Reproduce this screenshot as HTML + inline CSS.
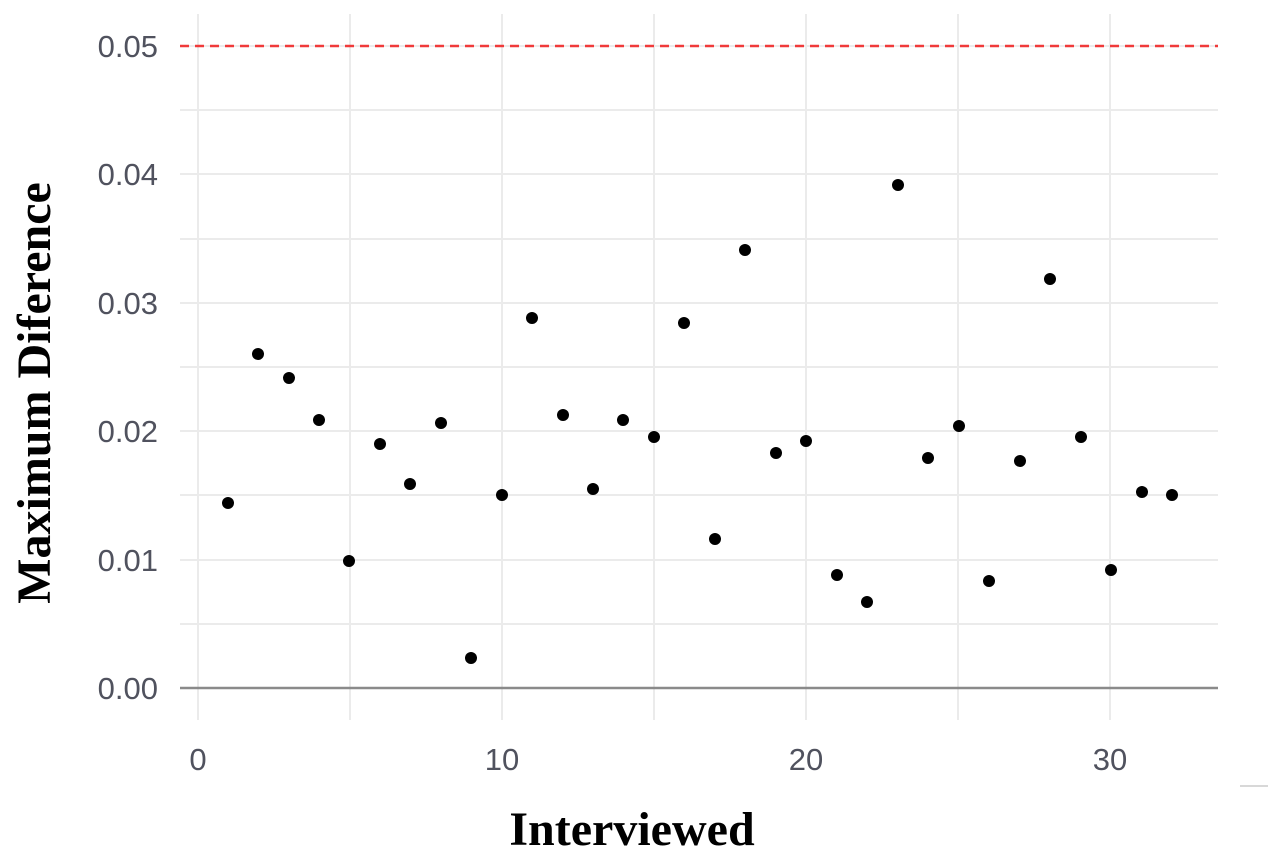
<!DOCTYPE html>
<html><head><style>
html,body{margin:0;padding:0;background:#fff;width:1280px;height:852px;overflow:hidden}
</style></head><body>
<svg width="1280" height="852" viewBox="0 0 1280 852" xmlns="http://www.w3.org/2000/svg">
<g stroke="#ebebeb" stroke-width="2">
<line x1="180" x2="1218" y1="46" y2="46"/><line x1="180" x2="1218" y1="110" y2="110"/>
<line x1="180" x2="1218" y1="174" y2="174"/><line x1="180" x2="1218" y1="239" y2="239"/>
<line x1="180" x2="1218" y1="303" y2="303"/><line x1="180" x2="1218" y1="367" y2="367"/>
<line x1="180" x2="1218" y1="431" y2="431"/><line x1="180" x2="1218" y1="495" y2="495"/>
<line x1="180" x2="1218" y1="560" y2="560"/><line x1="180" x2="1218" y1="624" y2="624"/>
<line x1="198" x2="198" y1="14" y2="720"/><line x1="350" x2="350" y1="14" y2="720"/>
<line x1="502" x2="502" y1="14" y2="720"/><line x1="654" x2="654" y1="14" y2="720"/>
<line x1="806" x2="806" y1="14" y2="720"/><line x1="958" x2="958" y1="14" y2="720"/>
<line x1="1110" x2="1110" y1="14" y2="720"/>
</g>
<line x1="180" x2="1218" y1="688" y2="688" stroke="#8a8a8a" stroke-width="2.5"/>
<line x1="180" x2="1218" y1="46" y2="46" stroke="#f03a3a" stroke-width="2.5" stroke-dasharray="9,6"/>
<line x1="1240" x2="1268" y1="786" y2="786" stroke="#ccc" stroke-width="1.5"/>
<g font-family="Liberation Sans, sans-serif" font-size="31" fill="#50525e" text-anchor="end">
<text x="158" y="57">0.05</text><text x="158" y="185">0.04</text><text x="158" y="314">0.03</text>
<text x="158" y="442">0.02</text><text x="158" y="571">0.01</text><text x="158" y="699">0.00</text>
</g>
<g font-family="Liberation Sans, sans-serif" font-size="31" fill="#50525e" text-anchor="middle">
<text x="198" y="770">0</text><text x="502" y="770">10</text><text x="806" y="770">20</text><text x="1110" y="770">30</text>
</g>
<text x="632" y="845" font-family="Liberation Serif, serif" font-weight="bold" font-size="48" text-anchor="middle">Interviewed</text>
<text transform="translate(50,393) rotate(-90)" font-family="Liberation Serif, serif" font-weight="bold" font-size="48" text-anchor="middle">Maximum Diference</text>
<g fill="#000">
<circle cx="228" cy="503" r="6"/><circle cx="258" cy="354" r="6"/><circle cx="289" cy="378" r="6"/>
<circle cx="319" cy="420" r="6"/><circle cx="349" cy="561" r="6"/><circle cx="380" cy="444" r="6"/>
<circle cx="410" cy="484" r="6"/><circle cx="441" cy="423" r="6"/><circle cx="471" cy="658" r="6"/>
<circle cx="502" cy="495" r="6"/><circle cx="532" cy="318" r="6"/><circle cx="563" cy="415" r="6"/>
<circle cx="593" cy="489" r="6"/><circle cx="623" cy="420" r="6"/><circle cx="654" cy="437" r="6"/>
<circle cx="684" cy="323" r="6"/><circle cx="715" cy="539" r="6"/><circle cx="745" cy="250" r="6"/>
<circle cx="776" cy="453" r="6"/><circle cx="806" cy="441" r="6"/><circle cx="837" cy="575" r="6"/>
<circle cx="867" cy="602" r="6"/><circle cx="898" cy="185" r="6"/><circle cx="928" cy="458" r="6"/>
<circle cx="959" cy="426" r="6"/><circle cx="989" cy="581" r="6"/><circle cx="1020" cy="461" r="6"/>
<circle cx="1050" cy="279" r="6"/><circle cx="1081" cy="437" r="6"/><circle cx="1111" cy="570" r="6"/>
<circle cx="1142" cy="492" r="6"/><circle cx="1172" cy="495" r="6"/>
</g>
</svg>
</body></html>
